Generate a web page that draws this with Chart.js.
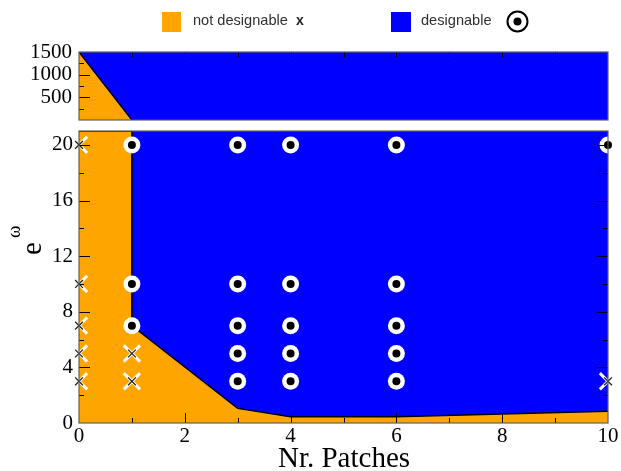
<!DOCTYPE html>
<html>
<head>
<meta charset="utf-8">
<script src="https://cdn.jsdelivr.net/npm/chart.js@4.4.1/dist/chart.umd.min.js"></script>
<style>
  html, body { margin: 0; padding: 0; background: #fff; }
  body { width: 621px; height: 471px; position: relative; overflow: hidden; }
  canvas { position: absolute; left: 0; }
  #top { top: 0; }
  #bot { top: 125px; }
</style>
</head>
<body>
<canvas id="top" width="621" height="128"></canvas>
<canvas id="bot" width="621" height="346"></canvas>
<script>
// ---- data ----
const xTickLabels = [0, 2, 4, 6, 8, 10];
const yTickLabels = [0, 4, 8, 12, 16, 20];
const yTopTickLabels = [500, 1000, 1500];

// boundary between regions (bottom panel, e^omega scale)
const boundaryX = [0, 1, 1, 3, 4, 6, 10];
const boundaryY = [21, 21, 7, 1.05, 0.45, 0.45, 0.85];
// boundary in top panel
const boundaryTopX = [0, 1, 10];
const boundaryTopY = [1500, 0, 0];

// not designable samples (x)
const notDesX = [0, 0, 0, 0, 0, 1, 1, 10];
const notDesY = [3, 5, 7, 10, 20, 3, 5, 3];
// designable samples (circled dot)
const desX = [1, 1, 1, 3, 3, 3, 3, 3, 4, 4, 4, 4, 4, 6, 6, 6, 6, 6, 10];
const desY = [7, 10, 20, 3, 5, 7, 10, 20, 3, 5, 7, 10, 20, 3, 5, 7, 10, 20, 20];

const ORANGE = '#FFA500';
const BLUE = '#0000FF';
const FRAME = '#606060';
const SERIF = '"Liberation Serif", "DejaVu Serif", serif';
const SANS = '"Liberation Sans", Arial, sans-serif';

function pts(xs, ys) { return xs.map((x, i) => ({ x: x, y: ys[i] })); }

// decoration plugin: blue background, frame, inward ticks
const decor = {
  id: 'decor',
  beforeDatasetsDraw(chart) {
    const a = chart.chartArea, c = chart.ctx;
    c.save();
    c.fillStyle = BLUE;
    c.fillRect(a.left, a.top, a.right - a.left, a.bottom - a.top);
    c.restore();
  },
  afterDatasetsDraw(chart, args, o) {
    const a = chart.chartArea, c = chart.ctx;
    const xs = chart.scales.x, ys = chart.scales.y;
    c.save();
    c.strokeStyle = '#000';
    c.lineWidth = 1;
    c.beginPath();
    const drawX = (vals, len, edge) => {
      vals.forEach(v => {
        const px = Math.round(xs.getPixelForValue(v)) + 0.5;
        if (edge === 'bottom') { c.moveTo(px, a.bottom); c.lineTo(px, a.bottom - len); }
        else { c.moveTo(px, a.top); c.lineTo(px, a.top + len); }
      });
    };
    const drawY = (vals, len, edge) => {
      vals.forEach(v => {
        const py = Math.round(ys.getPixelForValue(v)) + 0.5;
        if (edge === 'left') { c.moveTo(a.left, py); c.lineTo(a.left + len, py); }
        else { c.moveTo(a.right, py); c.lineTo(a.right - len, py); }
      });
    };
    (o.ticks || []).forEach(t => {
      if (t.axis === 'x') drawX(t.values, t.len, t.edge);
      else drawY(t.values, t.len, t.edge);
    });
    c.stroke();
    c.strokeStyle = FRAME;
    c.lineWidth = 1.2;
    c.strokeRect(a.left, a.top, a.right - a.left, a.bottom - a.top);
    c.restore();
  }
};

const range = (a, b, s) => { const r = []; for (let v = a; v <= b + 1e-9; v += s) r.push(v); return r; };
const plain = v => String(v);

// ---- top chart ----
const legendPlugin = {
  id: 'legendDraw',
  afterDraw(chart) {
    const c = chart.ctx;
    c.save();
    c.fillStyle = ORANGE;
    c.fillRect(162, 12, 19, 20);
    c.fillStyle = BLUE;
    c.fillRect(391, 12, 20, 20);
    c.fillStyle = '#303030';
    c.font = '14.6px ' + SANS;
    c.textBaseline = 'middle';
    c.textAlign = 'left';
    c.fillText('not designable', 193, 21);
    c.fillText('designable', 421, 21);
    c.font = 'bold 14px ' + SANS;
    c.fillStyle = '#222';
    c.fillText('x', 296, 21);
    // circled dot symbol
    c.beginPath();
    c.arc(517.5, 21.5, 10, 0, Math.PI * 2);
    c.lineWidth = 2;
    c.strokeStyle = '#000';
    c.stroke();
    c.beginPath();
    c.arc(517.5, 21.5, 4, 0, Math.PI * 2);
    c.fillStyle = '#000';
    c.fill();
    c.restore();
  }
};

new Chart(document.getElementById('top'), {
  type: 'line',
  data: {
    datasets: [{
      data: pts(boundaryTopX, boundaryTopY),
      borderColor: '#000', borderWidth: 1.5,
      backgroundColor: ORANGE, fill: 'origin',
      pointRadius: 0, tension: 0
    }]
  },
  options: {
    responsive: false, animation: false,
    layout: { autoPadding: false, padding: { top: 52, bottom: 8, left: 0, right: 13 } },
    plugins: {
      legend: { display: false }, tooltip: { enabled: false },
      decor: { ticks: [
        { axis: 'y', values: [500, 1000], len: 11, edge: 'left' },
        { axis: 'y', values: [250, 750, 1250], len: 5, edge: 'left' },
        { axis: 'x', values: range(1, 9, 1), len: 5, edge: 'top' }
      ] }
    },
    scales: {
      x: { type: 'linear', min: 0, max: 10, display: false },
      y: {
        type: 'linear', min: 0, max: 1500,
        afterFit(s) { s.width = 79; s.paddingTop = 0; s.paddingBottom = 0; },
        afterBuildTicks(s) { s.ticks = yTopTickLabels.map(v => ({ value: v })); },
        grid: { display: false, drawTicks: false },
        border: { display: false },
        ticks: { padding: 7, color: '#000', callback: plain, font: { family: SERIF, size: 21 } }
      }
    }
  },
  plugins: [decor, legendPlugin]
});

// ---- bottom chart ----
const titles = {
  id: 'titles',
  afterDraw(chart) {
    const c = chart.ctx;
    c.save();
    c.fillStyle = '#000';
    c.textAlign = 'center';
    c.textBaseline = 'alphabetic';
    c.font = '29px ' + SERIF;
    c.fillText('Nr. Patches', 344, 342);
    // y title e^omega, rotated
    c.translate(41, 124);
    c.rotate(-Math.PI / 2);
    c.textAlign = 'left';
    c.font = '29px ' + SERIF;
    c.fillText('e', -6, 0);
    c.font = '19px ' + SERIF;
    c.fillText('\u03c9', 11, -21);
    c.restore();
  }
};

new Chart(document.getElementById('bot'), {
  type: 'line',
  data: {
    datasets: [
      {
        data: pts(boundaryX, boundaryY),
        borderColor: '#000', borderWidth: 1.5,
        backgroundColor: ORANGE, fill: 'origin',
        pointRadius: 0, tension: 0, order: 5
      },
      {
        type: 'scatter', data: pts(desX, desY), order: 4, clip: 0,
        pointStyle: 'circle', pointRadius: 8.5,
        pointBackgroundColor: '#fff', pointBorderWidth: 0, showLine: false
      },
      {
        type: 'scatter', data: pts(notDesX, notDesY), order: 3, clip: 0,
        pointStyle: 'crossRot', pointRadius: 11.5,
        pointBorderColor: '#fff', pointBorderWidth: 3, showLine: false
      },
      {
        type: 'scatter', data: pts(desX, desY), order: 2, clip: false,
        pointStyle: 'circle', pointRadius: 4,
        pointBackgroundColor: '#000', pointBorderWidth: 0, showLine: false
      },
      {
        type: 'scatter', data: pts(notDesX, notDesY), order: 1, clip: false,
        pointStyle: 'crossRot', pointRadius: 5.5,
        pointBorderColor: '#222', pointBorderWidth: 1.3, showLine: false
      }
    ]
  },
  options: {
    responsive: false, animation: false,
    layout: { autoPadding: false, padding: { top: 6, bottom: 0, left: 0, right: 13 } },
    plugins: {
      legend: { display: false }, tooltip: { enabled: false },
      decor: { ticks: [
        { axis: 'y', values: [4, 8, 12, 16, 20], len: 11, edge: 'left' },
        { axis: 'y', values: [2, 6, 10, 14, 18], len: 5, edge: 'left' },
        { axis: 'y', values: [4, 8, 12, 16, 20], len: 11, edge: 'right' },
        { axis: 'y', values: [2, 6, 10, 14, 18], len: 5, edge: 'right' },
        { axis: 'x', values: [2, 4, 6, 8], len: 10, edge: 'bottom' },
        { axis: 'x', values: [1, 3, 5, 7, 9], len: 5, edge: 'bottom' }
      ] }
    },
    scales: {
      x: {
        type: 'linear', min: 0, max: 10,
        afterFit(s) { s.height = 48; s.paddingLeft = 0; s.paddingRight = 0; },
        afterBuildTicks(s) { s.ticks = xTickLabels.map(v => ({ value: v })); },
        grid: { display: false, drawTicks: false },
        border: { display: false },
        ticks: { padding: 1, color: '#000', maxRotation: 0, autoSkip: false, callback: plain, font: { family: SERIF, size: 21 } }
      },
      y: {
        type: 'linear', min: 0, max: 21,
        afterFit(s) { s.width = 79; s.paddingTop = 0; s.paddingBottom = 0; },
        afterBuildTicks(s) { s.ticks = yTickLabels.map(v => ({ value: v })); },
        grid: { display: false, drawTicks: false },
        border: { display: false },
        ticks: { padding: 6, color: '#000', callback: plain, font: { family: SERIF, size: 21 } }
      }
    }
  },
  plugins: [decor, titles]
});
</script>
</body>
</html>
